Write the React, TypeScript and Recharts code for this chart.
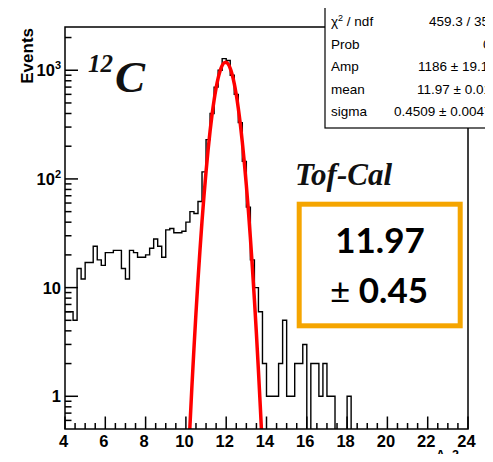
import { ComposedChart, Line, XAxis, YAxis } from 'recharts'

const W = 493
const H = 462
const PLOT = { left: 65, right: 468, top: 27, bottom: 429 }

// A_Z histogram, 0.2 wide bins from 4 to 24
const BIN_LOW = 4
const BIN_WIDTH = 0.2
const counts = [
    6, 6, 5, 15, 12, 17, 17, 24, 18, 16,
    21, 21, 22, 22, 15, 12, 22, 21, 19, 19,
    20, 23, 28, 24, 19, 34, 35, 32, 32, 33,
    40, 50, 48, 62, 116, 230, 400, 700, 1000, 1280,
    1230, 900, 600, 330, 145, 55, 18, 10, 6, 2,
    1, 1, 1, 2, 5, 1, 1, 2, 2, 3,
    0, 2, 2, 1, 2, 1, 1, 0, 0, 0,
    1, 0, 0, 0, 0, 0, 0, 0, 0, 0,
    0, 0, 0, 0, 0, 0, 0, 0, 0, 0,
    0, 0, 0, 0, 0, 0, 0, 0, 0, 0,
]

// gaus fit (red curve)
const fitX = [
    10.1, 10.2, 10.3, 10.4, 10.5, 10.6, 10.7, 10.8, 10.9, 11.0,
    11.1, 11.2, 11.3, 11.4, 11.5, 11.6, 11.7, 11.8, 11.9, 12.0,
    12.1, 12.2, 12.3, 12.4, 12.5, 12.6, 12.7, 12.8, 12.9, 13.0,
    13.1, 13.2, 13.3, 13.4, 13.5, 13.6, 13.7, 13.8, 13.9,
]
const fitY = [
    0.22, 0.53, 1.25, 2.76, 5.84, 11.7, 22.4, 40.9, 71.0, 117,
    184, 276, 393, 533, 689, 847, 991, 1105, 1172, 1183,
    1138, 1041, 907, 753, 594, 447, 320, 218, 141, 87.3,
    51.3, 28.7, 15.3, 7.76, 3.75, 1.72, 0.755, 0.314, 0.125,
]

const xMajor = [4, 6, 8, 10, 12, 14, 16, 18, 20, 22, 24]
const yMajor = [1, 10, 100, 1000]
const yMinor = [
    0.6, 0.7, 0.8, 0.9,
    2, 3, 4, 5, 6, 7, 8, 9,
    20, 30, 40, 50, 60, 70, 80, 90,
    200, 300, 400, 500, 600, 700, 800, 900,
    2000,
]

const statsLabels = ['Prob', 'Amp', 'mean', 'sigma']
const statsValues = ['459.3 / 35', '0', '1186 ± 19.1', '11.97 ± 0.01', '0.4509 ± 0.0047']
const statsValueX = [429, 483, 418, 417, 394]

const resultMean = '11.97'
const resultSigma = '0.45'

// empty bins are pushed below the frame floor so the outline drops to the axis
const EMPTY_FLOOR = 0.1

const histData = counts.map((c, i) => ({ x: +(BIN_LOW + i * BIN_WIDTH).toFixed(2), count: c }))
histData.push({ x: BIN_LOW + counts.length * BIN_WIDTH, count: counts[counts.length - 1] })

const fitData = fitX.map((x, i) => ({ x, y: fitY[i] }))

const xTicks: number[] = []
xMajor.forEach((m, i) => {
    xTicks.push(m)
    if (i < xMajor.length - 1) {
        xTicks.push(m + 0.5, m + 1, m + 1.5)
    }
})
const yTicks = [...yMajor, ...yMinor].sort((a, b) => a - b)

const SANS = '"Liberation Sans", Arial, Helvetica, sans-serif'
const SERIF = '"Liberation Serif", "Times New Roman", serif'

const XTick = (props: any) => {
    const { x, payload } = props
    const major = xMajor.includes(payload.value)
    return (
        <g>
            <line x1={x} x2={x} y1={PLOT.bottom} y2={PLOT.bottom - (major ? 12.5 : 6)} stroke="#000" strokeWidth={1.5} />
            {major && (
                <text x={x - 1.5} y={447} textAnchor="middle" fontFamily={SANS} fontWeight="bold" fontSize={16.5} fill="#000">
                    {payload.value}
                </text>
            )}
        </g>
    )
}

const YTick = (props: any) => {
    const { y, payload } = props
    const v = payload.value
    const major = yMajor.includes(v)
    let label = null
    if (major) {
        if (v >= 100) {
            label = (
                <text x={61} y={y + 6} textAnchor="end" fontFamily={SANS} fontWeight="bold" fontSize={16.5} fill="#000">
                    10
                    <tspan fontSize={11} dy={-7}>{Math.round(Math.log10(v))}</tspan>
                </text>
            )
        } else {
            label = (
                <text x={61} y={y + 6} textAnchor="end" fontFamily={SANS} fontWeight="bold" fontSize={16.5} fill="#000">
                    {v}
                </text>
            )
        }
    }
    return (
        <g>
            <line x1={PLOT.left} x2={PLOT.left + (major ? 13 : 6.5)} y1={y} y2={y} stroke="#000" strokeWidth={1.5} />
            {label}
        </g>
    )
}

const Overlay = () => (
    <svg width={W} height={H} style={{ position: 'absolute', left: 0, top: 0, pointerEvents: 'none' }}>
        {/* frame */}
        <rect x={PLOT.left} y={PLOT.top} width={PLOT.right - PLOT.left} height={PLOT.bottom - PLOT.top} fill="none" stroke="#000" strokeWidth={1.5} />

        {/* stats box */}
        <rect x={325} y={7} width={200} height={121} fill="#fff" stroke="#000" strokeWidth={1.2} />
        <text x={331} y={26} fontFamily={SANS} fontSize={13.5} fill="#000">
            χ<tspan fontSize={9} dy={-5}>2</tspan><tspan dy={5}> / ndf</tspan>
        </text>
        {statsLabels.map((s, i) => (
            <text key={s} x={331} y={48.5 + i * 22.5} fontFamily={SANS} fontSize={13.5} fill="#000">{s}</text>
        ))}
        {statsValues.map((s, i) => (
            <text key={i} x={statsValueX[i]} y={26 + i * 22.5} fontFamily={SANS} fontSize={13.5} fill="#000">{s}</text>
        ))}

        {/* axis titles */}
        <text x={33} y={28} transform="rotate(-90 33 28)" textAnchor="end" fontFamily={SANS} fontWeight="bold" fontSize={17} fill="#000">
            Events
        </text>
        <text x={436} y={458.5} fontFamily={SANS} fontWeight="bold" fontSize={12.5} fill="#000">A_2</text>

        {/* nucleus label */}
        <text x={88} y={72} fontFamily={SERIF} fontStyle="italic" fontWeight="bold" fontSize={25} fill="#111">12</text>
        <text x={115} y={92} fontFamily={SERIF} fontStyle="italic" fontWeight="bold" fontSize={45} fill="#111">C</text>

        <text x={295} y={185} fontFamily={SERIF} fontStyle="italic" fontWeight="bold" fontSize={31} fill="#111">Tof-Cal</text>

        {/* result box */}
        <rect x={299.2} y={204.2} width={161} height={121.6} fill="#fff" stroke="#F5A500" strokeWidth={5} />
        <text x={380} y={253} textAnchor="middle" fontFamily="Lato, 'Open Sans', sans-serif" fontWeight="bold" fontSize={35} fill="#000">
            {resultMean}
        </text>
        <text x={379} y={303} textAnchor="middle" fontFamily="Lato, 'Open Sans', sans-serif" fontWeight="bold" fontSize={35} fill="#000">
            <tspan fontWeight="normal">±</tspan> {resultSigma}
        </text>
    </svg>
)

const App = () => {
    return (
        <div style={{ position: 'relative', width: W, height: H, margin: -8, background: '#fff' }}>
            <ComposedChart width={W} height={H} margin={{ top: PLOT.top, right: W - PLOT.right, bottom: 0, left: 0 }}>
                <XAxis
                    type="number"
                    dataKey="x"
                    domain={[4, 24]}
                    ticks={xTicks}
                    interval={0}
                    tick={<XTick />}
                    tickLine={false}
                    axisLine={false}
                    height={H - PLOT.bottom}
                    allowDataOverflow
                />
                <YAxis
                    type="number"
                    scale="log"
                    domain={[0.5, 2500]}
                    ticks={yTicks}
                    interval={0}
                    tick={<YTick />}
                    tickLine={false}
                    axisLine={false}
                    width={PLOT.left}
                    allowDataOverflow
                />
                <Line
                    data={histData}
                    dataKey={(d: any) => (d.count > 0 ? d.count : EMPTY_FLOOR)}
                    type="stepAfter"
                    stroke="#000"
                    strokeWidth={1.4}
                    dot={false}
                    activeDot={false}
                    isAnimationActive={false}
                />
                <Line
                    data={fitData}
                    dataKey="y"
                    type="monotone"
                    stroke="#ff0000"
                    strokeWidth={3.5}
                    dot={false}
                    activeDot={false}
                    isAnimationActive={false}
                />
            </ComposedChart>
            <Overlay />
        </div>
    )
}

export default App
